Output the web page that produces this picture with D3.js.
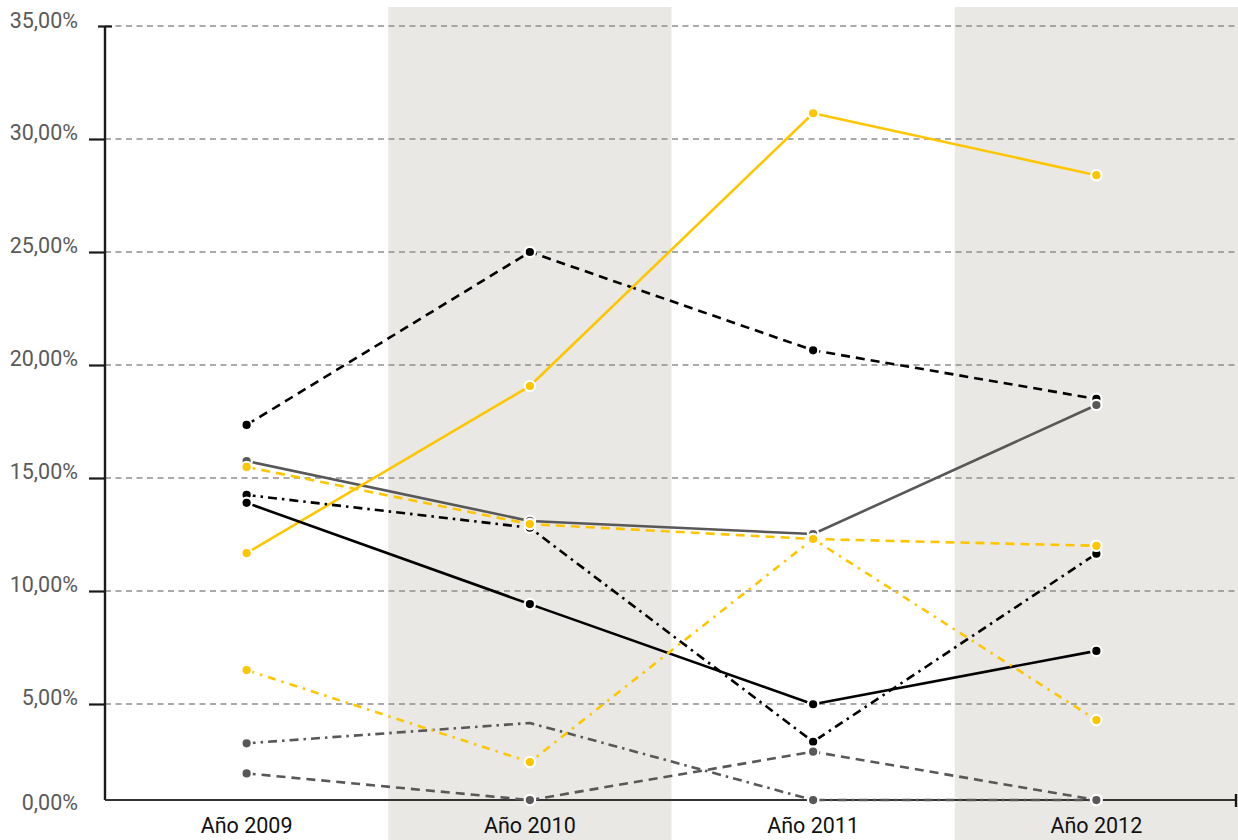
<!DOCTYPE html>
<html>
<head>
<meta charset="utf-8">
<script src="https://cdn.jsdelivr.net/npm/d3@7"></script>
<style>
  html, body { margin: 0; padding: 0; background: #fff; }
  svg { display: block; }
  text { font-family: Roboto, "Noto Sans", sans-serif; }
</style>
</head>
<body>
<div id="chart"></div>
<script>
// ---- data ----
const years = ["Año 2009", "Año 2010", "Año 2011", "Año 2012"];
const yTicks = [0, 5, 10, 15, 20, 25, 30, 35];

const serie1 = [11.68, 19.07, 31.14, 28.40]; // amarillo continuo
const serie2 = [17.35, 25.00, 20.65, 18.50]; // negro discontinuo
const serie3 = [15.75, 13.10, 12.52, 18.23]; // gris continuo
const serie4 = [15.49, 12.96, 12.30, 12.00]; // amarillo discontinuo
const serie5 = [14.25, 12.80, 3.33, 11.65];  // negro punto-raya
const serie6 = [13.90, 9.42, 4.99, 7.35];    // negro continuo
const serie7 = [6.50, 2.43, 12.30, 4.29];    // amarillo punto-raya
const serie8 = [3.26, 4.16, 0.75, 0.75];     // gris punto-raya
const serie9 = [1.93, 0.75, 2.89, 0.75];     // gris discontinuo

const hiddenMarkers = [["Serie 8", "Año 2010"]];

const YELLOW = "#FFC600", GRAY = "#585858", BLACK = "#000000";
const series = [
  { name: "Serie 2", values: serie2, color: BLACK,  dash: "9,6" },
  { name: "Serie 3", values: serie3, color: GRAY,   dash: null },
  { name: "Serie 1", values: serie1, color: YELLOW, dash: null },
  { name: "Serie 8", values: serie8, color: GRAY,   dash: "9,5,2.5,5" },
  { name: "Serie 5", values: serie5, color: BLACK,  dash: "9,5,2.5,5" },
  { name: "Serie 4", values: serie4, color: YELLOW, dash: "9,6" },
  { name: "Serie 6", values: serie6, color: BLACK,  dash: null },
  { name: "Serie 7", values: serie7, color: YELLOW, dash: "8,6,2.5,6" },
  { name: "Serie 9", values: serie9, color: GRAY,   dash: "9,6" }
];

// ---- layout ----
const W = 1238, H = 840;
const mLeft = 105, mRight = 1238, mTop = 26, zeroY = 817, baseY = 800;

const svg = d3.select("#chart").append("svg")
  .attr("width", W).attr("height", H);

const x = d3.scaleBand().domain(years).range([mLeft, mRight]).padding(0);
const y = d3.scaleLinear().domain([0, 35]).range([zeroY, mTop]);
const cx = d => x(d) + x.bandwidth() / 2;

// shaded alternate bands
svg.append("g").selectAll("rect")
  .data(years.filter((d, i) => i % 2 === 1))
  .join("rect")
  .attr("x", d => x(d)).attr("y", 7)
  .attr("width", x.bandwidth()).attr("height", H - 7)
  .attr("fill", "#E9E8E4");

// gridlines
svg.append("g").selectAll("line")
  .data(yTicks.filter(t => t > 0))
  .join("line")
  .attr("x1", mLeft).attr("x2", mRight)
  .attr("y1", d => y(d)).attr("y2", d => y(d))
  .attr("stroke", "#8f8f8f").attr("stroke-width", 1.3)
  .attr("stroke-dasharray", "6,4.5");

// y axis
const yAxis = d3.axisLeft(y).tickValues(yTicks)
  .tickSize(16).tickPadding(11)
  .tickFormat(d => d3.format(".2f")(d).replace(".", ",") + "%");
const gy = svg.append("g").attr("transform", `translate(${mLeft},0)`).call(yAxis);
gy.select(".domain").remove();
gy.selectAll(".tick line").attr("stroke", "#1a1a1a").attr("stroke-width", 2.2)
  .filter(d => d === 0).remove();
gy.selectAll(".tick").filter(d => d === 35).select("line")
  .attr("x1", -7).attr("x2", 7);
gy.selectAll(".tick text")
  .attr("font-size", 21.5).attr("fill", "#5a5a5a")
  .attr("dy", "0").attr("x", -27)
  .attr("y", d => d === 0 ? -8 : (d === 35 ? 1 : 0));
gy.append("line")
  .attr("x1", 0).attr("x2", 0).attr("y1", mTop).attr("y2", baseY)
  .attr("stroke", "#1a1a1a").attr("stroke-width", 2.4);

// x axis baseline
const gx = svg.append("g").attr("transform", `translate(0,${baseY})`);
gx.append("line").attr("x1", mLeft).attr("x2", mRight - 1)
  .attr("stroke", "#333").attr("stroke-width", 2);
gx.append("line").attr("x1", mRight - 2).attr("x2", mRight - 2)
  .attr("y1", -6).attr("y2", 7)
  .attr("stroke", "#1a1a1a").attr("stroke-width", 2.4);
gx.selectAll("text").data(years).join("text")
  .attr("x", d => cx(d)).attr("y", 33)
  .attr("text-anchor", "middle")
  .attr("font-size", 21.5).attr("fill", "#111")
  .text(d => d);

// lines
const line = d3.line().x((v, i) => cx(years[i])).y(v => y(v));
const gl = svg.append("g");
series.forEach(s => {
  gl.append("path")
    .attr("d", line(s.values))
    .attr("fill", "none")
    .attr("stroke", s.color).attr("stroke-width", 2.6)
    .attr("stroke-dasharray", s.dash)
    .attr("stroke-linejoin", "round");
});

// markers
const gm = svg.append("g");
series.forEach(s => {
  gm.selectAll(null)
    .data(s.values.map((v, i) => ({ v, yr: years[i] }))
      .filter(p => !hiddenMarkers.some(h => h[0] === s.name && h[1] === p.yr)))
    .join("circle")
    .attr("cx", p => cx(p.yr)).attr("cy", p => y(p.v))
    .attr("r", 5.2)
    .attr("fill", s.color)
    .attr("stroke", "#fff").attr("stroke-width", 2.2);
});
</script>
</body>
</html>
